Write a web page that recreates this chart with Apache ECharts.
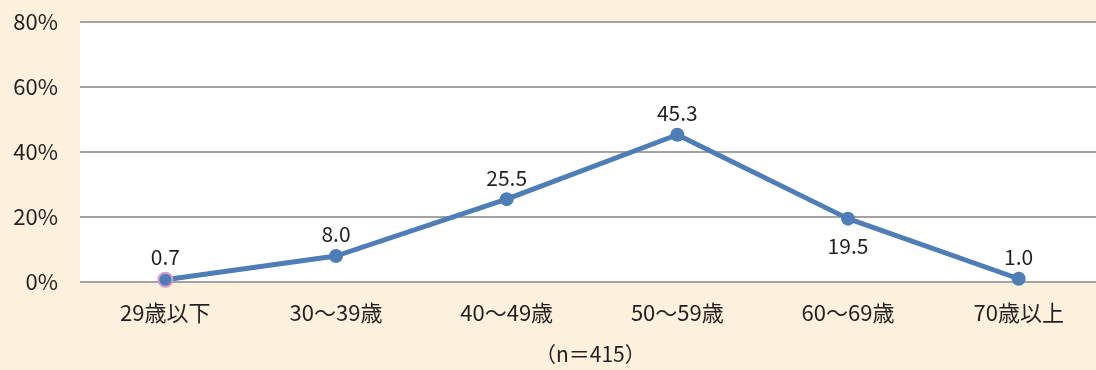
<!DOCTYPE html>
<html>
<head>
<meta charset="utf-8">
<script src="https://cdn.jsdelivr.net/npm/echarts@6/dist/echarts.min.js"></script>
<style>
  html, body { margin: 0; padding: 0; background: #fdf0dc; overflow: hidden; }
  #chart { width: 1104px; height: 370px; }
</style>
</head>
<body>
<div id="chart"></div>
<script>
// Age groups and share of respondents (%)
const categories = ['29歳以下', '30～39歳', '40～49歳', '50～59歳', '60～69歳', '70歳以上'];
const values = [0.7, 8.0, 25.5, 45.3, 19.5, 1.0];
const labelBelow = [false, false, false, false, true, false];
const yTicks = [0, 20, 40, 60, 80];
const note = '（n＝415）';

const font = '"Noto Sans CJK JP", "Noto Sans", sans-serif';
const textColor = '#231f20';
const lineColor = '#4f7db5';

const chart = echarts.init(document.getElementById('chart'), null, { renderer: 'canvas' });

chart.setOption({
  backgroundColor: '#fdf0dc',
  animation: false,
  grid: {
    left: 80, right: 0, top: 22, bottom: 88,
    show: true, backgroundColor: '#ffffff', borderWidth: 0
  },
  xAxis: {
    type: 'category',
    data: categories,
    boundaryGap: true,
    axisLine: { show: false },
    axisTick: { show: false },
    axisLabel: { color: textColor, fontFamily: font, fontSize: 22, margin: 20 }
  },
  yAxis: {
    type: 'value',
    min: yTicks[0], max: yTicks[yTicks.length - 1], interval: 20,
    axisLine: { show: false },
    axisTick: { show: false },
    axisLabel: { color: textColor, fontFamily: font, fontSize: 22, margin: 22, formatter: '{value}%' },
    splitLine: { lineStyle: { color: '#a3a3a7', width: 2 } }
  },
  graphic: [{
    type: 'text',
    left: 535,
    top: 344,
    style: { text: note, fill: textColor, font: '21px ' + font }
  }],
  series: [{
    type: 'line',
    data: values.map((v, i) => ({
      value: v,
      label: labelBelow[i] ? { position: 'bottom', distance: 10 } : { position: 'top', distance: 4 },
      itemStyle: i === 0 ? { borderColor: '#d79bd0', borderWidth: 2 } : undefined
    })),
    symbol: 'circle',
    symbolSize: 14,
    lineStyle: { color: lineColor, width: 5 },
    itemStyle: { color: lineColor, borderColor: lineColor, borderWidth: 0 },
    label: {
      show: true,
      color: textColor, fontFamily: font, fontSize: 21,
      formatter: p => p.value.toFixed(1)
    }
  }]
});
</script>
</body>
</html>
